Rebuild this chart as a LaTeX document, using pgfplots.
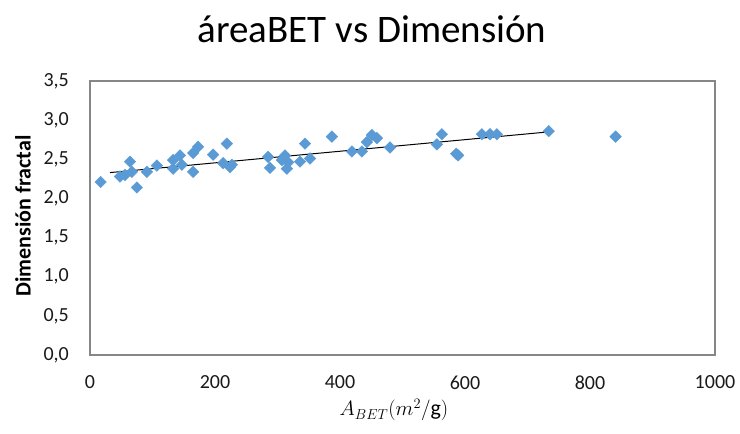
\documentclass[border=0pt]{standalone}
\usepackage{fontspec}
\setmainfont{Carlito}
\usepackage{pgfplots}
\pgfplotsset{compat=1.18}
\definecolor{pt}{RGB}{91,155,213}
\definecolor{frame}{RGB}{134,134,134}
\begin{document}
\begin{tikzpicture}
\useasboundingbox (0pt,0pt) rectangle (740pt,434pt);
\begin{axis}[at={(90pt,79pt)}, anchor=south west, scale only axis,
  width=625pt, height=274pt,
  xmin=0, xmax=1000, ymin=0, ymax=3.5,
  xtick={0,200,400,600,800,1000},
  ytick={0,0.5,1,1.5,2,2.5,3,3.5},
  major tick length=0pt,
  axis line style={frame, line width=1.2pt},
  tick label style={font=\fontsize{20}{24}\selectfont, text=black!90, inner sep=0pt},
  /pgf/number format/assume math mode=true,
  yticklabel style={xshift=-21pt, /pgf/number format/fixed, /pgf/number format/fixed zerofill, /pgf/number format/precision=1, /pgf/number format/use comma},
  xticklabel style={yshift=-20.7pt, /pgf/number format/1000 sep={}},
  clip=false]
\addplot[only marks, mark=square*, mark size=4.1pt, mark options={rotate=45, fill=pt, draw=pt}] table {
x y
17 2.21
48 2.28
56 2.30
64 2.47
67 2.34
75 2.14
91 2.34
107 2.42
133 2.49
133 2.38
144 2.55
147 2.43
165 2.34
165 2.58
173 2.66
197 2.56
219 2.70
213 2.45
227 2.43
224 2.40
285 2.53
288 2.39
307 2.49
312 2.55
315 2.38
317 2.46
336 2.47
344 2.70
352 2.51
387 2.79
419 2.60
435 2.60
443 2.72
451 2.81
459 2.77
480 2.65
555 2.69
563 2.82
586 2.57
589 2.55
627 2.82
640 2.82
651 2.82
734 2.86
841 2.79
};
\addplot[black, line width=1pt] coordinates {(32,2.33) (734,2.85)};
\end{axis}
\node[font=\fontsize{39}{46}\selectfont, anchor=base] at (372pt,391pt) {áreaBET vs Dimensión};
\node[rotate=90, font=\bfseries\fontsize{22}{26}\selectfont] at (23pt,218pt) {Dimensión fractal};
\node[anchor=base, font=\fontsize{22}{26}\selectfont] at (394pt,18pt) {$A_{BET}(m^2/\mathrm{g})$};
\end{tikzpicture}
\end{document}
